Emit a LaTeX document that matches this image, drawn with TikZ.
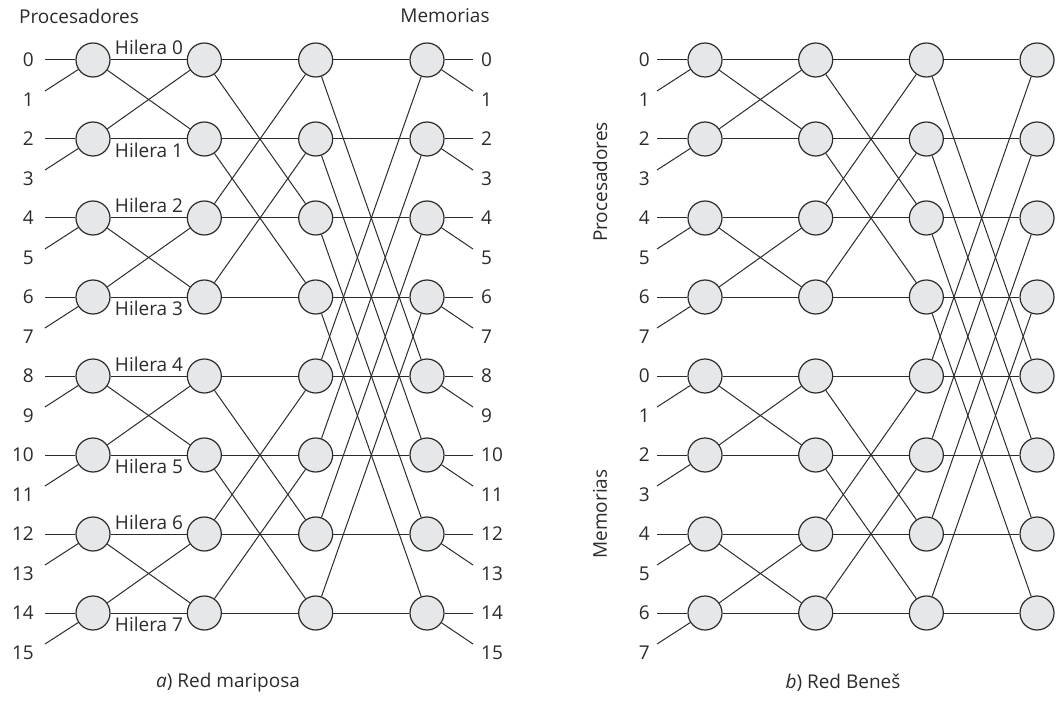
\documentclass[tikz,border=0pt]{standalone}
\usepackage{fontspec}
\setmainfont{Open Sans}
\definecolor{swfill}{HTML}{E6E7E8}
\definecolor{ink}{HTML}{2B2B2B}
\begin{document}
\begin{tikzpicture}[x=1pt,y=-1pt,
  sw/.style={circle,draw=ink,fill=swfill,line width=1.2pt,minimum size=34pt,inner sep=0pt},
  wire/.style={line width=1pt,draw=ink},
  lbl/.style={font=\fontsize{19}{21}\selectfont,inner sep=0pt,text=ink}]
\useasboundingbox (0,0) rectangle (1056,711);
% ---------- left: butterfly ----------
\foreach \c in {1,...,4}{
  \foreach \r in {0,...,7}{
    \pgfmathsetmacro{\xx}{93+111.33*(\c-1)}
    \pgfmathsetmacro{\yy}{60+79*\r}
    \node[sw] (L-\c-\r) at (\xx,\yy) {};
  }
}
% ---------- right: Benes ----------
\foreach \c in {1,...,4}{
  \foreach \r in {0,...,7}{
    \pgfmathsetmacro{\xx}{705+110.67*(\c-1)}
    \pgfmathsetmacro{\yy}{60+79*\r}
    \node[sw] (R-\c-\r) at (\xx,\yy) {};
  }
}
% stage connections
\foreach \c/\b in {1/1,2/2,3/4}{
  \pgfmathtruncatemacro{\n}{\c+1}
  \foreach \r in {0,...,7}{
    \pgfmathtruncatemacro{\p}{ifthenelse(mod(floor(\r/\b),2)==0,\r+\b,\r-\b)}
    \draw[wire] (L-\c-\r) -- (L-\n-\r);
    \draw[wire] (L-\c-\r) -- (L-\n-\p);
    \draw[wire] (R-\c-\r) -- (R-\n-\r);
    \draw[wire] (R-\c-\r) -- (R-\n-\p);
  }
}
% inputs / outputs
\foreach \r in {0,...,7}{
  \pgfmathsetmacro{\yy}{60+79*\r}
  \pgfmathsetmacro{\yo}{60+79*\r+31}
  \pgfmathsetmacro{\yl}{60+79*\r+40}
  \pgfmathtruncatemacro{\e}{2*\r}
  \pgfmathtruncatemacro{\o}{2*\r+1}
  % left inputs
  \coordinate (Li-\e) at (45,\yy);
  \coordinate (Li-\o) at (45,\yo);
  \draw[wire] (Li-\e) -- (L-1-\r);
  \draw[wire] (Li-\o) -- (L-1-\r);
  \node[lbl,anchor=east] (Lin-\e) at (34,\yy) {\e};
  \node[lbl,anchor=east] (Lin-\o) at (34,\yl) {\o};
  % left outputs
  \coordinate (Lo-\e) at (473,\yy);
  \coordinate (Lo-\o) at (473,\yo);
  \draw[wire] (L-4-\r) -- (Lo-\e);
  \draw[wire] (L-4-\r) -- (Lo-\o);
  \node[lbl,anchor=west] (Lout-\e) at (481,\yy) {\e};
  \node[lbl,anchor=west] (Lout-\o) at (481,\yl) {\o};
}
\foreach \r in {0,...,7}{
  \pgfmathsetmacro{\yy}{60+79*\r}
  \pgfmathsetmacro{\yo}{60+79*\r+31}
  \pgfmathsetmacro{\yl}{60+79*\r+40}
  \pgfmathtruncatemacro{\e}{mod(2*\r,8)}
  \pgfmathtruncatemacro{\o}{mod(2*\r+1,8)}
  \coordinate (Ri-\r-a) at (657,\yy);
  \coordinate (Ri-\r-b) at (657,\yo);
  \draw[wire] (Ri-\r-a) -- (R-1-\r);
  \draw[wire] (Ri-\r-b) -- (R-1-\r);
  \node[lbl,anchor=east] (Rin-\r-a) at (650,\yy) {\e};
  \node[lbl,anchor=east] (Rin-\r-b) at (650,\yl) {\o};
}
% Hilera labels
\foreach \k in {0,2,4,6}{
  \pgfmathsetmacro{\yy}{60+79*\k-5}
  \node[lbl,anchor=base] (H-\k) at (149,\yy) {Hilera \k};
}
\foreach \k in {1,3,5,7}{
  \pgfmathsetmacro{\yy}{60+79*\k+4}
  \node[lbl,anchor=north] (H-\k) at (149,\yy) {Hilera \k};
}
% titles
\node[lbl] (tP) at (79,16) {Procesadores};
\node[lbl] (tM) at (445,16) {Memorias};
\node[lbl,rotate=90] (rP) at (600,182) {Procesadores};
\node[lbl,rotate=90] (rM) at (600,514) {Memorias};
\node[lbl] (capA) at (228,683) {\textit{a}) Red mariposa};
\node[lbl] (capB) at (843,683) {\textit{b}) Red Beneš};
\end{tikzpicture}
\end{document}
